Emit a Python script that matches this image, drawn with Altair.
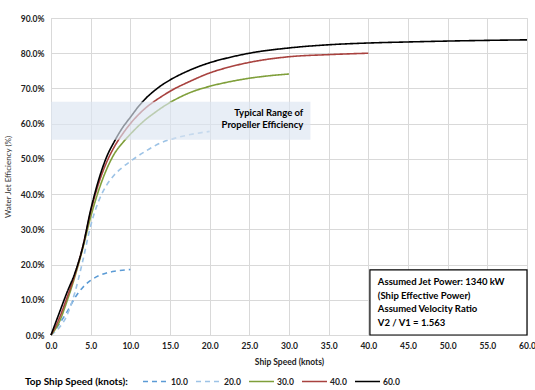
import altair as alt
import pandas as pd

# ---- data ----
s10 = [0, 1, 2, 3, 4, 5, 6, 7, 8, 9, 10]
e10 = [0, 3, 6.5, 10.5, 13.5, 15.5, 16.8, 17.6, 18.1, 18.4, 18.6]

s20 = [0, 1, 2, 3, 4, 5, 6, 7, 8, 9, 10, 12, 14, 16, 18, 20]
e20 = [0, 2, 5.5, 12, 21, 31, 38, 42.5, 45.5, 47.6, 49.3, 52.3, 54.7, 56.1, 57.1, 57.8]

s30 = [0, 1, 2, 3, 4, 5, 6, 7, 8, 9, 10, 11, 12, 13, 14, 15, 17.5, 20, 22.5, 25, 27.5, 30]
e30 = [0, 3.5, 9.5, 16.5, 24.5, 33.5, 41, 47, 51.5, 54.5, 57, 59.3, 61.3, 63, 64.6, 66,
       68.8, 70.6, 71.9, 72.9, 73.6, 74.1]

s40 = [0, 1, 2, 3, 4, 5, 6, 7, 8, 9, 10, 11, 12, 13, 14, 15, 17.5, 20, 22.5, 25, 30, 35, 40]
e40 = [0, 4.5, 10.5, 17, 25, 35, 43, 49, 53.5, 57, 60, 62.5, 64.6, 66.3, 67.8, 69.2,
       72, 74.4, 76.1, 77.4, 79, 79.6, 80]

s60 = [0, 1, 2, 3, 4, 5, 6, 7, 8, 9, 10, 11, 12, 13, 14, 15, 17.5, 20, 22.5, 25, 30,
       35, 40, 45, 50, 55, 60]
e60 = [0, 6, 12, 17.5, 25, 35.5, 44, 50.5, 55, 58.8, 61.8, 64.8, 67.3, 69.3, 71, 72.4,
       75.2, 77.3, 78.8, 80, 81.5, 82.4, 82.9, 83.2, 83.45, 83.65, 83.8]

series_names = ["10.0", "20.0", "30.0", "40.0", "60.0"]
series_colors = ["#5b9bd5", "#9dc3e6", "#7f9f3a", "#a8423f", "#000000"]
series_dash = [[5, 4], [5, 4], [1, 0], [1, 0], [1, 0]]

x_ticks = [0, 5, 10, 15, 20, 25, 30, 35, 40, 45, 50, 55, 60]
y_ticks = [0, 10, 20, 30, 40, 50, 60, 70, 80, 90]

band_x = [0, 32.7]
band_y = [55.4, 66.2]
band_text = ["Typical Range of", "Propeller Efficiency"]
band_text_x = [31.8, 31.8]
band_text_y = [63.1, 59.6]

box_x = [40.2, 60]
box_y = [0, 18.5]
box_text = ["Assumed Jet Power:  1340 kW", "(Ship Effective Power)",
            "Assumed Velocity Ratio", "V2 / V1 = 1.563"]
box_text_x = [41.2, 41.2, 41.2, 41.2]
box_text_y = [15.0, 11.2, 7.3, 3.5]

FONT = "Lato"

# ---- build tables ----
rows = []
for name, xs, ys in zip(series_names, [s10, s20, s30, s40, s60], [e10, e20, e30, e40, e60]):
    for x, y in zip(xs, ys):
        rows.append({"speed": x, "eff": y, "series": name})
df = pd.DataFrame(rows)

x_scale = alt.Scale(domain=[0, 60], nice=False, zero=True)
y_scale = alt.Scale(domain=[0, 90], nice=False)

x_axis = alt.Axis(title="Ship Speed  (knots)", values=x_ticks, format=".1f",
                  grid=True, gridColor="#d9d9d9", domainColor="#d9d9d9",
                  ticks=False, labelPadding=6, labelFont=FONT, labelFontSize=8.5,
                  labelFontWeight="bold", labelColor="#222222", labelOverlap=False,
                  labelFlush=False,
                  titleFont=FONT, titleFontSize=8.5, titleFontWeight="bold",
                  titleColor="#222222", titlePadding=8)
y_axis = alt.Axis(title="Water Jet Efficiency (%)", values=y_ticks,
                  labelExpr="format(datum.value, '.1f') + '%'",
                  grid=True, gridColor="#d9d9d9", domainColor="#d9d9d9",
                  ticks=False, labelPadding=7, labelFont=FONT, labelFontSize=8.5,
                  labelFontWeight="bold", labelColor="#222222", labelOverlap=False,
                  titleFont=FONT, titleFontSize=8, titleFontWeight="normal",
                  titleColor="#333333", titleX=-39)

lines = alt.Chart(df).mark_line(strokeWidth=1.6, interpolate="monotone").encode(
    x=alt.X("speed:Q", scale=x_scale, axis=x_axis),
    y=alt.Y("eff:Q", scale=y_scale, axis=y_axis),
    color=alt.Color("series:N",
                    scale=alt.Scale(domain=series_names, range=series_colors),
                    legend=alt.Legend(title="Top Ship Speed (knots):", orient="none",
                                      legendX=-26, legendY=350, direction="horizontal",
                                      columns=5, titleOrient="left", titleFont=FONT,
                                      titleFontSize=10, titleFontWeight="bold",
                                      titleColor="#000000", titlePadding=14,
                                      titleBaseline="top",
                                      labelFont=FONT, labelFontSize=8.5,
                                      labelFontWeight="bold", labelColor="#222222",
                                      labelBaseline="middle",
                                      symbolType="stroke", symbolSize=625,
                                      symbolStrokeWidth=1.6, labelOffset=2,
                                      columnPadding=4)),
    strokeDash=alt.StrokeDash("series:N",
                              scale=alt.Scale(domain=series_names, range=series_dash),
                              legend=alt.Legend(title="Top Ship Speed (knots):")),
)

band_df = pd.DataFrame({"x": [band_x[0]], "x2": [band_x[1]], "y": [band_y[0]], "y2": [band_y[1]]})
band = alt.Chart(band_df).mark_rect(color="#dbe5f1", opacity=0.65).encode(
    x=alt.X("x:Q", scale=x_scale, axis=x_axis), x2="x2:Q",
    y=alt.Y("y:Q", scale=y_scale, axis=y_axis), y2="y2:Q")

band_txt_df = pd.DataFrame({"x": band_text_x, "y": band_text_y, "t": band_text})
band_txt = alt.Chart(band_txt_df).mark_text(
    align="right", baseline="middle", font=FONT, fontSize=9.5, fontWeight="bold",
    color="#000000").encode(
    x=alt.X("x:Q", scale=x_scale, axis=x_axis),
    y=alt.Y("y:Q", scale=y_scale, axis=y_axis), text="t:N")

box_df = pd.DataFrame({"x": [box_x[0]], "x2": [box_x[1]], "y": [box_y[0]], "y2": [box_y[1]]})
box = alt.Chart(box_df).mark_rect(fill="white", stroke="black", strokeWidth=1.2).encode(
    x=alt.X("x:Q", scale=x_scale, axis=x_axis), x2="x2:Q",
    y=alt.Y("y:Q", scale=y_scale, axis=y_axis), y2="y2:Q")

box_txt_df = pd.DataFrame({"x": box_text_x, "y": box_text_y, "t": box_text})
box_txt = alt.Chart(box_txt_df).mark_text(
    align="left", baseline="middle", font=FONT, fontSize=9.5, fontWeight="bold",
    color="#000000").encode(
    x=alt.X("x:Q", scale=x_scale, axis=x_axis),
    y=alt.Y("y:Q", scale=y_scale, axis=y_axis), text="t:N")

chart = alt.layer(lines, band, band_txt, box, box_txt).properties(
    width=476, height=317,
    autosize=alt.AutoSizeParams(type="none"),
    padding={"left": 51, "top": 18, "right": 8, "bottom": 55},
).configure_view(stroke=None).configure(background="white")

chart.save("out.html", embed_options={"renderer": "svg", "actions": False})
